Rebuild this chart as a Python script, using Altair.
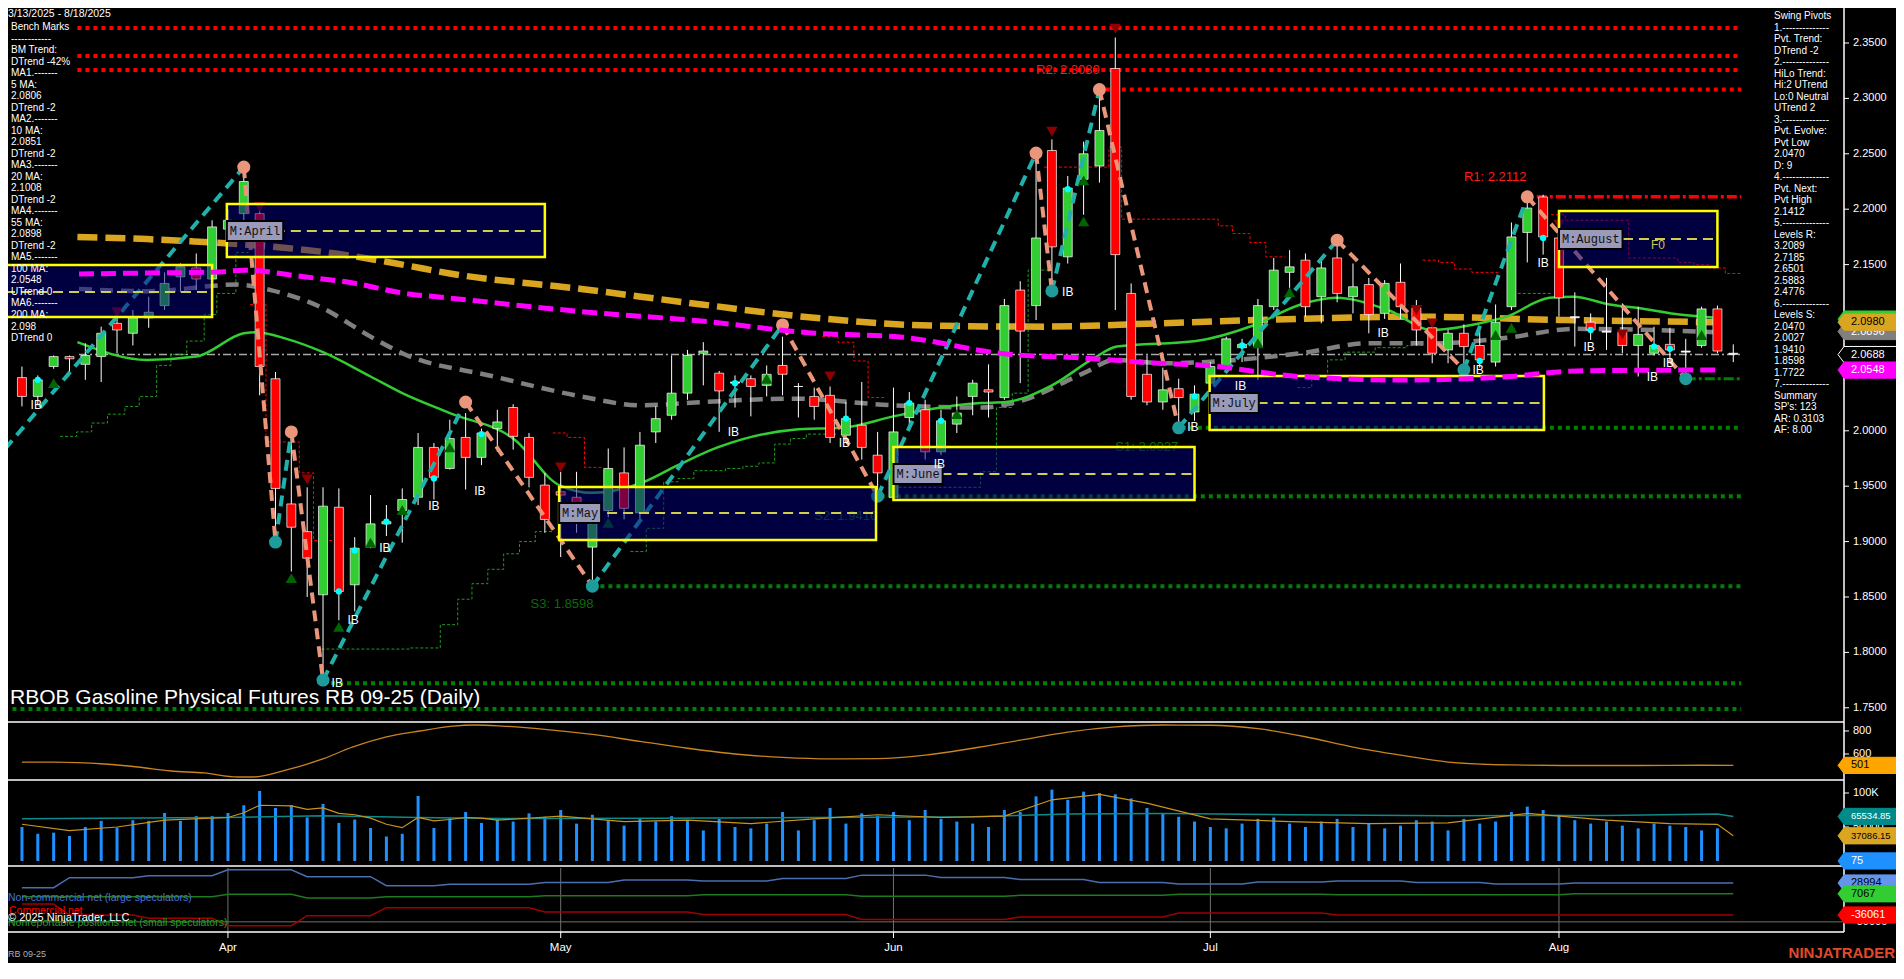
import altair as alt
import pandas as pd

# ---------------- data ----------------
opens = [2.048,2.031,2.058,2.067,2.060,2.067,2.097,2.088,2.102,2.113,
         2.139,2.147,2.137,2.182,2.196,2.196,2.047,1.934,1.909,1.852,
         1.931,1.861,1.895,1.916,1.928,1.940,1.985,1.966,1.994,1.976,
         2.002,2.021,1.994,1.951,1.945,1.940,1.895,1.928,1.962,1.926,
         1.999,2.014,2.034,2.070,2.052,2.043,2.047,2.041,2.059,2.040,
         2.031,2.032,1.996,2.005,1.978,1.940,2.012,2.019,1.981,2.006,
         2.031,2.037,2.030,2.127,2.113,2.253,2.157,2.227,2.239,2.327,
         2.124,2.051,2.026,2.038,2.017,2.043,2.058,2.075,2.076,2.112,
         2.143,2.154,2.121,2.156,2.121,2.132,2.106,2.134,2.111,2.093,
         2.073,2.088,2.077,2.062,2.112,2.179,2.211,2.174,2.103,2.098,
         2.090,2.089,2.077,2.070,2.078,2.072,2.077,2.110,2.070]
highs = [2.058,2.050,2.068,2.068,2.079,2.094,2.106,2.109,2.121,2.143,
         2.151,2.160,2.190,2.200,2.238,2.204,2.053,1.999,1.949,1.949,
         1.948,1.904,1.942,1.933,1.948,1.998,1.989,2.010,2.016,2.002,
         2.019,2.024,1.998,1.962,1.963,1.963,1.931,1.984,1.985,1.999,
         2.022,2.068,2.073,2.080,2.054,2.050,2.050,2.059,2.085,2.043,
         2.039,2.040,2.026,2.044,1.999,2.039,2.035,2.028,2.019,2.031,
         2.046,2.060,2.119,2.135,2.251,2.263,2.230,2.261,2.308,2.355,
         2.133,2.068,2.057,2.047,2.041,2.062,2.085,2.083,2.119,2.156,
         2.163,2.160,2.154,2.172,2.151,2.138,2.136,2.151,2.118,2.098,
         2.091,2.096,2.091,2.114,2.188,2.211,2.213,2.181,2.125,2.106,
         2.138,2.115,2.112,2.094,2.093,2.083,2.112,2.113,2.078]
lows = [2.022,2.023,2.056,2.053,2.046,2.044,2.070,2.077,2.093,2.109,
        2.125,2.127,2.134,2.176,2.189,2.032,1.900,1.873,1.850,1.775,
        1.829,1.837,1.894,1.905,1.899,1.933,1.938,1.965,1.947,1.969,
        1.981,1.983,1.949,1.908,1.886,1.908,1.860,1.922,1.920,1.920,
        1.989,2.010,2.028,2.041,1.999,2.021,2.013,2.031,2.032,2.012,
        2.010,1.989,1.992,1.974,1.941,1.938,2.005,1.974,1.978,1.998,
        2.014,2.012,2.028,2.043,2.100,2.126,2.151,2.195,2.224,2.109,
        2.028,2.023,2.019,2.003,2.009,2.035,2.053,2.062,2.046,2.109,
        2.127,2.103,2.097,2.116,2.106,2.088,2.101,2.101,2.077,2.061,
        2.061,2.055,2.057,2.058,2.109,2.152,2.159,2.103,2.076,2.082,
        2.073,2.070,2.049,2.068,2.064,2.047,2.075,2.070,2.062]
closes = [2.031,2.046,2.067,2.065,2.068,2.088,2.091,2.102,2.107,2.133,
          2.148,2.137,2.184,2.190,2.225,2.058,1.948,1.913,1.885,1.932,
          1.855,1.894,1.916,1.918,1.938,1.985,1.958,1.993,1.976,1.998,
          2.008,1.995,1.958,1.920,1.942,1.930,1.922,1.966,1.930,1.987,
          2.011,2.034,2.068,2.072,2.036,2.044,2.040,2.051,2.051,2.040,
          2.022,1.994,2.011,1.985,1.962,1.999,2.025,1.981,2.009,2.016,
          2.043,2.035,2.113,2.090,2.174,2.166,2.219,2.250,2.271,2.159,
          2.031,2.026,2.037,2.030,2.033,2.058,2.083,2.078,2.113,2.145,
          2.148,2.112,2.147,2.124,2.130,2.105,2.133,2.112,2.091,2.070,
          2.088,2.076,2.064,2.098,2.175,2.201,2.175,2.120,2.102,2.091,
          2.089,2.077,2.087,2.077,2.073,2.071,2.110,2.072,2.069]
volumes = [50000,40000,41700,36800,50000,59000,49000,60000,59000,70600,
           59000,66000,66000,70600,82000,103000,78000,82000,64000,84000,
           56000,61000,48500,36000,40000,95600,48500,63000,72000,56000,
           61000,58000,70000,65000,75000,55000,68000,60000,52000,63000,
           58000,66000,60000,45000,62000,50000,48000,55000,72000,45000,
           60000,78000,55000,70000,66000,72000,60000,75000,62000,58000,
           55000,50000,75000,72000,95000,105000,90000,102000,100000,98000,
           92000,78000,70000,65000,58000,50000,48000,55000,62000,64000,
           55000,50000,58000,62000,50000,55000,48000,52000,60000,58000,
           45000,62000,55000,58000,72000,80000,75000,68000,60000,55000,
           58000,52000,48000,55000,52000,50000,45000,48000,75]

month_labels = ["Apr", "May", "Jun", "Jul", "Aug"]
month_bars = [13, 34, 55, 75, 97]
price_ticks = [1.75, 1.80, 1.85, 1.90, 1.95, 2.00, 2.05, 2.10, 2.15, 2.20, 2.25, 2.30, 2.35]

# moving averages (bar index, value)
ma200_i = [3.5, 7.9, 10.7, 16.7, 19.8, 24, 27, 35.3, 42.9, 50, 57.3, 64.5, 71.7, 80.5, 87.8, 97.3, 107]
ma200_v = [2.175, 2.173, 2.171, 2.165, 2.160, 2.150, 2.142, 2.128, 2.114, 2.102, 2.095, 2.094, 2.097, 2.101, 2.103, 2.100, 2.098]
ma100_i = [3.6, 7.9, 12.3, 14, 17.8, 20.9, 24, 27, 35.3, 42.9, 50.1, 55.4, 62.1, 66.9, 71.7, 74.3, 80.6, 87.4, 93.7, 98.1, 107]
ma100_v = [2.1415, 2.1424, 2.1433, 2.145, 2.139, 2.1334, 2.1244, 2.1198, 2.1076, 2.099, 2.088, 2.0847, 2.0693, 2.0657, 2.061, 2.0594, 2.049, 2.0458, 2.0488, 2.054, 2.0549]
ma55_i = [3.6, 8, 13.6, 15.7, 18.8, 22, 24, 29.8, 35.3, 39, 43, 48.7, 55, 60.5, 62.8, 67, 69, 72, 80.7, 85, 89.3, 93.7, 98, 107]
ma55_v = [2.128, 2.126, 2.132, 2.127, 2.112, 2.085, 2.070, 2.049, 2.031, 2.023, 2.026, 2.029, 2.023, 2.021, 2.026, 2.052, 2.064, 2.061, 2.070, 2.079, 2.079, 2.084, 2.092, 2.089]
ma20_i = [3.5, 7.9, 11, 14, 14.8, 16.7, 19, 22, 24, 27, 31.1, 33.9, 36, 39.1, 41.4, 43.9, 48.7, 51.9, 55, 57.1, 60.5, 62.1, 65, 67.7, 69.1, 74.1, 77.7, 80.7, 82.9, 86.2, 89, 92, 93.7, 96.4, 97.9, 100.2, 102.4, 104.6, 107]
ma20_v = [2.080, 2.064, 2.067, 2.088, 2.089, 2.083, 2.071, 2.049, 2.034, 2.016, 1.992, 1.951, 1.944, 1.953, 1.969, 1.985, 2.001, 2.003, 2.013, 2.019, 2.025, 2.026, 2.041, 2.066, 2.076, 2.081, 2.095, 2.114, 2.120, 2.109, 2.091, 2.097, 2.103, 2.120, 2.121, 2.114, 2.110, 2.105, 2.102]

# swing pivots
piv_i = [-1.07, 14, 16, 17, 19, 28, 36, 48, 54, 64, 65, 68, 73, 83, 91, 95, 105]
piv_p = [1.9836, 2.238, 1.8996, 1.999, 1.775, 2.026, 1.8598, 2.0955, 1.941, 2.2507, 2.1262, 2.308, 2.0027, 2.172, 2.055, 2.2112, 2.047]
piv_kind = ["L", "H", "L", "H", "L", "H", "L", "H", "L", "H", "L", "H", "L", "H", "L", "H", "L"]

# horizontal levels
red_lvl_p = [2.3635, 2.3383, 2.3256, 2.3080]
red_lvl_start = [3.5, 3.5, 3.5, 68.4]
grn_lvl_p = [2.0027, 1.9410, 1.8598, 1.7722, 1.7490]
grn_lvl_start = [73.2, 54.2, 36.0, 19.0, -0.6]
lvl_end = 108.5
r1_level = 2.2112
r1_start = 95.6
pvt_low_level = 2.047
pvt_low_start = 105
last_price = 2.0688
last_price_start = 3.6

# monthly boxes
box_name = ["M:March", "M:April", "M:May", "M:June", "M:July", "M:August"]
box_i0 = [-1.07, 12.93, 33.9, 55.0, 74.95, 97.0]
box_i1 = [12.0, 33.0, 53.9, 74.0, 96.05, 107.0]
box_top = [2.1496, 2.2047, 1.9493, 1.9854, 2.0495, 2.1984]
box_bot = [2.1027, 2.1569, 1.9014, 1.9375, 2.0007, 2.1478]
box_mid = [2.1253, 2.1803, 1.9258, 1.9610, 2.0251, 2.1731]

# trailing stop steps (segment id, bar, price)
gstep_seg = [0]*13 + [1]*10 + [2]*12 + [3]*6 + [4]*7 + [5]*2
gstep_i = [2.4, 3.45, 4.4, 5.4, 6.5, 7.4, 8.5, 9.4, 10.4, 11.5, 12.3, 13.5, 14.3,
           18.9, 24.5, 26.4, 27.5, 28.4, 29.4, 30.4, 31.4, 32.4, 33.5,
           38.4, 39.4, 40.5, 41.4, 42.4, 44.4, 45.5, 46.5, 47.5, 48.5, 49.5, 51.5,
           55.0, 60.5, 61.5, 62.5, 63.5, 65.0,
           80.5, 81.4, 82.4, 83.5, 85.4, 87.4, 88.4,
           94.4, 96.5]
gstep_p = [1.995, 1.999, 2.007, 2.015, 2.022, 2.031, 2.059, 2.069, 2.081, 2.105, 2.124, 2.161, 2.161,
           1.803, 1.804, 1.825, 1.848, 1.862, 1.875, 1.889, 1.900, 1.909, 1.909,
           1.891, 1.912, 1.954, 1.957, 1.964, 1.966, 1.968, 1.971, 1.988, 1.993, 1.997, 1.997,
           1.949, 1.963, 2.021, 2.034, 2.145, 2.145,
           2.039, 2.048, 2.064, 2.071, 2.075, 2.077, 2.077,
           2.124, 2.124]
rstep_seg = [0]*5 + [1]*4 + [2]*5 + [3]*9 + [4]*5 + [5]*8
rstep_i = [14.4, 15.4, 17.5, 18.4, 19.6,
           33.5, 34.4, 35.5, 36.6,
           50.5, 51.5, 52.5, 53.4, 54.5,
           64.5, 68.6, 69.4, 74.4, 75.5, 76.4, 77.5, 78.5, 79.7,
           88.4, 89.4, 90.4, 91.5, 93.3,
           96.5, 97.4, 101.4, 104.5, 105.5, 106.5, 107.5, 108.5]
rstep_p = [2.114, 1.990, 1.962, 1.901, 1.901,
           1.998, 1.994, 1.967, 1.967,
           2.085, 2.080, 2.063, 2.030, 2.030,
           2.238, 2.256, 2.191, 2.191, 2.185, 2.178, 2.170, 2.157, 2.157,
           2.154, 2.152, 2.146, 2.143, 2.143,
           2.195, 2.190, 2.156, 2.152, 2.150, 2.147, 2.142, 2.142]

# markers
tri_dn_i = [6, 15, 18, 34, 51, 65, 69, 88, 89, 97, 101]
tri_dn_p = [2.107, 2.202, 1.956, 1.967, 2.049, 2.270, 2.363, 2.109, 2.097, 2.186, 2.087]
tri_up_i = [2, 17, 20, 22, 24, 27, 37, 47, 59, 67, 67, 78, 80, 93, 94, 106]
tri_up_p = [2.043, 1.867, 1.823, 1.899, 1.9285, 1.985, 1.917, 2.047, 2.015, 2.189, 2.226, 2.079, 2.125, 2.0865, 2.093, 2.0865]
cyan_i = [1, 20, 21, 23, 26, 29, 45, 52, 56, 58, 66, 74, 77, 92, 96, 99, 103, 104]
cyan_p = [2.046, 1.855, 1.892, 1.918, 1.957, 1.997, 2.043, 2.011, 2.025, 2.009, 2.218, 2.031, 2.077, 2.063, 2.174, 2.091, 2.076, 2.074]
ib_i = [0.9, 19.9, 20.9, 22.9, 26, 28.9, 44.9, 51.9, 57.9, 66, 73.9, 76.9, 85.9, 91.9, 96, 98.9, 102.9, 103.9]
ib_p = [2.023, 1.772, 1.829, 1.894, 1.932, 1.946, 1.999, 1.989, 1.970, 2.125, 2.003, 2.040, 2.088, 2.055, 2.151, 2.076, 2.049, 2.061]

# level annotations
red_ann_text = ["R2: 2.3080", "R1: 2.2112"]
red_ann_i = [64.0, 91.0]
red_ann_p = [2.3256, 2.229]
grn_ann_text = ["S1: 2.0027", "S2: 1.9410", "S3: 1.8598"]
grn_ann_i = [69.0, 50.0, 32.1]
grn_ann_p = [1.9854, 1.923, 1.8437]

# lower panels
osc_i = [0, 2, 5.2, 7.3, 9.4, 11.5, 13.6, 14.6, 16.7, 18.8, 20.9, 23, 25.1, 27.2, 28.6, 30.3, 33, 36, 39, 42, 45, 48, 51, 54, 57, 60, 63, 66, 69, 72, 75, 78, 81, 84, 87, 90, 94, 98, 102, 106, 108]
osc_v = [530, 530, 513, 487, 452, 435, 400, 400, 461, 548, 661, 748, 800, 843, 852, 843, 815, 770, 710, 650, 600, 570, 557, 560, 590, 650, 720, 790, 835, 852, 850, 820, 750, 660, 590, 530, 505, 500, 500, 502, 501]
vavg1_i = [0, 10, 13, 19, 25, 30, 40, 50, 60, 66, 72, 80, 90, 100, 107, 108]
vavg1_v = [62000, 63500, 64000, 66500, 64000, 62500, 63000, 64000, 65000, 69000, 70000, 68000, 66500, 67000, 69000, 65534.85]
vavg2_i = [0, 3, 6, 9, 13, 14, 15, 17, 18, 19, 20, 21, 22, 23, 24, 25, 26, 27, 28, 29, 30, 34, 38, 42, 46, 50, 54, 58, 62, 65, 68, 71, 75, 80, 85, 90, 95, 100, 104, 107, 108]
vavg2_v = [54000, 44600, 50000, 60000, 64000, 71000, 82000, 81000, 76000, 78000, 70000, 68000, 63000, 54000, 49000, 64000, 59000, 61000, 64000, 63000, 60000, 66000, 58000, 60000, 55000, 62000, 68000, 64000, 66000, 90000, 98000, 85000, 62000, 58000, 55000, 56000, 70000, 60000, 55000, 54000, 37086.15]
cot_nc_i = [0, 2, 3, 7, 8, 12, 13, 17, 18, 22, 23, 26, 27, 32, 33, 37, 38, 42, 43, 47, 48, 52, 53, 57, 58, 62, 63, 67, 68, 72, 73, 77, 78, 82, 83, 87, 88, 92, 93, 97, 98, 108]
cot_nc_v = [19400, 19400, 39800, 39800, 43800, 43800, 56000, 56000, 41800, 41800, 23500, 23500, 26300, 26300, 30000, 30000, 35000, 35000, 33000, 33000, 38000, 38000, 45000, 45000, 40000, 40000, 36000, 36000, 30000, 30000, 27000, 27000, 31000, 31000, 33000, 33000, 30000, 30000, 27000, 27000, 28994, 28994]
cot_nr_i = [0, 12, 13, 17, 18, 22, 23, 32, 33, 42, 43, 52, 53, 62, 63, 72, 73, 82, 83, 97, 98, 108]
cot_nr_v = [1100, 1100, 6000, 6000, -1500, -1500, 1100, 1100, 3000, 3000, 5000, 5000, 2000, 2000, 4000, 4000, 6000, 6000, 5000, 5000, 7067, 7067]
cot_cm_i = [0, 2, 3, 7, 8, 12, 13, 17, 18, 22, 23, 32, 33, 42, 43, 52, 53, 62, 63, 72, 73, 82, 83, 97, 98, 108]
cot_cm_v = [-13700, -13700, -36100, -36100, -42800, -42800, -57800, -57800, -37500, -37500, -21200, -21200, -30000, -30000, -35000, -35000, -45000, -45000, -40000, -40000, -32000, -32000, -36000, -36000, -36061, -36061]
cot_ref_level = -50000

left_lines = ["Bench Marks", "------------", "BM Trend:", "DTrend -42%", "MA1.-------", "5 MA:", "2.0806",
              "DTrend -2", "MA2.-------", "10 MA:", "2.0851", "DTrend -2", "MA3.-------", "20 MA:", "2.1008",
              "DTrend -2", "MA4.-------", "55 MA:", "2.0898", "DTrend -2", "MA5.-------", "100 MA:", "2.0548",
              "UTrend 0", "MA6.-------", "200 MA:", "2.098", "DTrend 0"]
right_lines = ["Swing Pivots", "1.--------------", "Pvt. Trend:", "DTrend -2", "2.--------------", "HiLo Trend:",
               "Hi:2 UTrend", "Lo:0 Neutral", "UTrend 2", "3.--------------", "Pvt. Evolve:", "Pvt Low", "2.0470",
               "D: 9", "4.--------------", "Pvt. Next:", "Pvt High", "2.1412", "5.--------------", "Levels R:",
               "3.2089", "2.7185", "2.6501", "2.5883", "2.4776", "6.--------------", "Levels S:", "2.0470",
               "2.0027", "1.9410", "1.8598", "1.7722", "7.--------------", "Summary", "SP's: 123", "AR: 0.3103",
               "AF: 8.00"]

# ---------------- layout ----------------
W, HGT = 1888, 955
FONT = "Liberation Sans"
XS = alt.Scale(domain=[-0.565, 117.954], nice=False, zero=False)


def scl(lo, hi, r0, r1):
    return alt.Scale(domain=[lo, hi], range=[r0, r1], nice=False, zero=False)


S_MAIN = scl(1.73718, 2.38159, 714, 0)
S_OSC = scl(373.9, 878.26, 772, 714)
S_VOL = scl(-7353, 119118, 858, 772)
S_COT = scl(-70623, 63555, 924, 858)


def X(f):
    return alt.X(f, type="quantitative", scale=XS, axis=None)


def Y(f, s):
    return alt.Y(f, type="quantitative", scale=s, axis=None)


ONE = pd.DataFrame({"k": [0]})
L = []


def line(xs, ys, s, **kw):
    d = pd.DataFrame({"i": xs, "v": ys})
    return alt.Chart(d).mark_line(**kw).encode(x=X("i"), y=Y("v", s))


# horizontal levels
red_df = pd.DataFrame({"a": red_lvl_start, "b": [lvl_end]*len(red_lvl_p), "p": red_lvl_p})
L.append(alt.Chart(red_df).mark_rule(color="#FF0000", strokeWidth=4, strokeDash=[4, 4]).encode(x=X("a"), x2="b", y=Y("p", S_MAIN)))
grn_df = pd.DataFrame({"a": grn_lvl_start, "b": [lvl_end]*len(grn_lvl_p), "p": grn_lvl_p})
L.append(alt.Chart(grn_df).mark_rule(color="#008000", strokeWidth=4, strokeDash=[4, 4]).encode(x=X("a"), x2="b", y=Y("p", S_MAIN)))
L.append(alt.Chart(pd.DataFrame({"a": [r1_start], "b": [lvl_end], "p": [r1_level]})).mark_rule(
    color="#FF0000", strokeWidth=3.5, strokeDash=[10, 3, 3, 3]).encode(x=X("a"), x2="b", y=Y("p", S_MAIN)))
L.append(alt.Chart(pd.DataFrame({"a": [pvt_low_start], "b": [lvl_end], "p": [pvt_low_level]})).mark_rule(
    color="#008000", strokeWidth=3, strokeDash=[10, 3, 3, 3]).encode(x=X("a"), x2="b", y=Y("p", S_MAIN)))
L.append(alt.Chart(pd.DataFrame({"a": [last_price_start], "b": [lvl_end], "p": [last_price]})).mark_rule(
    color="#A9A9A9", strokeWidth=1.5, strokeDash=[8, 3, 2, 3]).encode(x=X("a"), x2="b", y=Y("p", S_MAIN)))

# trailing stop steps
gs = pd.DataFrame({"s": gstep_seg, "i": gstep_i, "v": gstep_p})
L.append(alt.Chart(gs).mark_line(color="#1F9A1F", strokeWidth=1, strokeDash=[3, 2], interpolate="step-after").encode(
    x=X("i"), y=Y("v", S_MAIN), detail="s:N"))
rs = pd.DataFrame({"s": rstep_seg, "i": rstep_i, "v": rstep_p})
L.append(alt.Chart(rs).mark_line(color="#FF0000", strokeWidth=1, strokeDash=[3, 2], interpolate="step-after").encode(
    x=X("i"), y=Y("v", S_MAIN), detail="s:N"))

# moving averages (under boxes)
L.append(line(ma200_i, ma200_v, S_MAIN, color="#DAA520", strokeWidth=6.5, strokeDash=[20, 8], interpolate="monotone"))
L.append(line(ma55_i, ma55_v, S_MAIN, color="#808080", strokeWidth=4.5, strokeDash=[13, 8], interpolate="monotone"))
L.append(line(ma20_i, ma20_v, S_MAIN, color="#32CD32", strokeWidth=2.5, interpolate="monotone"))

# S/R annotations
L.append(alt.Chart(pd.DataFrame({"i": grn_ann_i, "p": grn_ann_p, "t": grn_ann_text})).mark_text(
    align="left", baseline="middle", font=FONT, fontSize=13, color="#0B6B0B").encode(x=X("i"), y=Y("p", S_MAIN), text="t:N"))
L.append(alt.Chart(pd.DataFrame({"i": red_ann_i, "p": red_ann_p, "t": red_ann_text})).mark_text(
    align="left", baseline="middle", font=FONT, fontSize=13, color="#FF1A1A").encode(x=X("i"), y=Y("p", S_MAIN), text="t:N"))

# candles
cd = pd.DataFrame({"i": list(range(len(opens))), "o": opens, "h": highs, "l": lows, "c": closes})
cd["col"] = ["#FFFFFF" if abs(c - o) < 0.0015 else ("#32CD32" if c > o else "#FF0000") for o, c in zip(opens, closes)]
L.append(alt.Chart(cd).mark_rule(color="#FFFFFF", strokeWidth=1).encode(x=X("i"), y=Y("l", S_MAIN), y2="h"))
L.append(alt.Chart(cd).mark_bar(size=9, stroke="#FFFFFF", strokeWidth=0.7).encode(
    x=X("i"), y=Y("o", S_MAIN), y2="c", color=alt.Color("col:N", scale=None)))

# swings
rows = []
for k in range(len(piv_i) - 1):
    up = piv_kind[k + 1] == "H"
    rows.append({"s": k, "i": piv_i[k], "v": piv_p[k], "up": up})
    rows.append({"s": k, "i": piv_i[k + 1], "v": piv_p[k + 1], "up": up})
sw = pd.DataFrame(rows)
L.append(alt.Chart(sw[sw.up]).mark_line(color="#20B2AA", strokeWidth=4, strokeDash=[11, 7]).encode(
    x=X("i"), y=Y("v", S_MAIN), detail="s:N"))
L.append(alt.Chart(sw[~sw.up]).mark_line(color="#E9967A", strokeWidth=4, strokeDash=[11, 7]).encode(
    x=X("i"), y=Y("v", S_MAIN), detail="s:N"))
pv = pd.DataFrame({"i": piv_i, "v": piv_p, "k": piv_kind})
L.append(alt.Chart(pv[pv.k == "H"]).mark_point(shape="circle", size=170, filled=True, opacity=1, color="#E9967A").encode(
    x=X("i"), y=Y("v", S_MAIN)))
L.append(alt.Chart(pv[(pv.k == "L") & (pv.i > 0)]).mark_point(shape="circle", size=170, filled=True, opacity=1, color="#1E9C9C").encode(
    x=X("i"), y=Y("v", S_MAIN)))

# markers
L.append(alt.Chart(pd.DataFrame({"i": tri_dn_i, "v": tri_dn_p})).mark_point(
    shape="triangle-down", size=130, filled=True, opacity=1, color="#8B0000").encode(x=X("i"), y=Y("v", S_MAIN)))
L.append(alt.Chart(pd.DataFrame({"i": tri_up_i, "v": tri_up_p})).mark_point(
    shape="triangle-up", size=130, filled=True, opacity=1, color="#006400").encode(x=X("i"), y=Y("v", S_MAIN)))
L.append(alt.Chart(pd.DataFrame({"i": cyan_i, "v": cyan_p})).mark_point(
    shape="circle", size=40, filled=True, opacity=1, color="#00FFFF").encode(x=X("i"), y=Y("v", S_MAIN)))

# monthly boxes
bx = pd.DataFrame({"n": box_name, "a": box_i0, "b": box_i1, "t": box_top, "u": box_bot, "m": box_mid})
L.append(alt.Chart(bx).mark_rect(fill="#000080", fillOpacity=0.5, stroke="#FFFF00", strokeWidth=2.5).encode(
    x=X("a"), x2="b", y=Y("t", S_MAIN), y2="u"))
L.append(alt.Chart(bx).mark_rule(color="#CFCF4A", strokeWidth=2, strokeDash=[10, 6]).encode(
    x=X("a"), x2="b", y=Y("m", S_MAIN)))
for k in range(1, len(box_name)):
    d = bx.iloc[[k]]
    wpx = 7.2 * len(box_name[k]) + 6
    L.append(alt.Chart(d).mark_rect(fill="#9A9ABA", stroke="#000000", strokeWidth=2, x2Offset=wpx,
                                    yOffset=-10, y2Offset=10).encode(x=X("a"), x2="a", y=Y("m", S_MAIN), y2="m"))
    L.append(alt.Chart(d).mark_text(align="left", baseline="middle", font="Liberation Mono", fontSize=12,
                                    color="#111111", dx=3).encode(x=X("a"), y=Y("m", S_MAIN), text="n:N"))
L.append(alt.Chart(pd.DataFrame({"i": [102.8], "v": [2.168], "t": ["F0"]})).mark_text(
    align="left", baseline="middle", font=FONT, fontSize=12, color="#C8C850").encode(x=X("i"), y=Y("v", S_MAIN), text="t:N"))

# 100 MA drawn above boxes
L.append(line(ma100_i, ma100_v, S_MAIN, color="#FF00FF", strokeWidth=5, strokeDash=[15, 7], interpolate="monotone"))

# IB labels
L.append(alt.Chart(pd.DataFrame({"i": ib_i, "v": ib_p, "t": ["IB"]*len(ib_i)})).mark_text(
    align="center", baseline="middle", font=FONT, fontSize=12, color="#FFFFFF").encode(x=X("i"), y=Y("v", S_MAIN), text="t:N"))

# text blocks
def text_block(lines, x, y0, dy, size, color):
    d = pd.DataFrame({"r": list(range(len(lines))), "t": lines})
    n = len(lines) - 1
    return alt.Chart(d).mark_text(align="left", baseline="middle", font=FONT, fontSize=size, color=color).encode(
        x=alt.value(x), y=alt.Y("r:Q", scale=alt.Scale(domain=[0, n], range=[y0, y0 + n * dy], nice=False, zero=False), axis=None),
        text="t:N")


L.append(text_block(left_lines, 3, 19, 11.52, 10, "#FFFFFF"))
L.append(text_block(right_lines, 1766, 8, 11.5, 10, "#FFFFFF"))
L.append(alt.Chart(ONE).mark_text(align="left", baseline="middle", font=FONT, fontSize=10.5, color="#FFFFFF",
                                  text="3/13/2025 - 8/18/2025").encode(x=alt.value(0), y=alt.value(6)))
L.append(alt.Chart(ONE).mark_text(align="left", baseline="middle", font=FONT, fontSize=21, color="#FFFFFF",
                                  text="RBOB Gasoline Physical Futures RB 09-25 (Daily)").encode(x=alt.value(2), y=alt.value(690)))

# lower panels
L.append(line(osc_i, osc_v, S_OSC, color="#C8841E", strokeWidth=1.3, interpolate="monotone"))
vd = pd.DataFrame({"i": list(range(len(volumes))), "v": volumes, "z": [0]*len(volumes)})
L.append(alt.Chart(vd).mark_bar(size=3, color="#1E90FF").encode(x=X("i"), y=Y("v", S_VOL), y2="z"))
L.append(line(vavg1_i, vavg1_v, S_VOL, color="#0E8A8A", strokeWidth=1.5))
L.append(line(vavg2_i, vavg2_v, S_VOL, color="#C8941E", strokeWidth=1.2))
L.append(alt.Chart(pd.DataFrame({"v": [cot_ref_level]})).mark_rule(color="#707070", strokeWidth=1).encode(
    x=alt.value(0), x2=alt.value(1836), y=Y("v", S_COT)))
L.append(alt.Chart(pd.DataFrame({"i": month_bars})).mark_rule(color="#707070", strokeWidth=1).encode(
    x=X("i"), y=alt.value(860), y2=alt.value(924)))
L.append(line(cot_nc_i, cot_nc_v, S_COT, color="#4A6FB0", strokeWidth=1.5))
L.append(line(cot_nr_i, cot_nr_v, S_COT, color="#1E7A1E", strokeWidth=1.5))
L.append(line(cot_cm_i, cot_cm_v, S_COT, color="#A00000", strokeWidth=1.5))

# separators & right axis
for yy in [714, 772, 858, 924]:
    L.append(alt.Chart(ONE).mark_rule(color="#FFFFFF", strokeWidth=1.5).encode(
        x=alt.value(0), x2=alt.value(1836), y=alt.value(yy)))
L.append(alt.Chart(ONE).mark_rule(color="#FFFFFF", strokeWidth=1.5).encode(
    x=alt.value(1836), y=alt.value(0), y2=alt.value(924)))

# axis ticks and labels
def axis_labels(vals, texts, s):
    d = pd.DataFrame({"v": vals, "t": texts})
    return [alt.Chart(d).mark_rule(color="#FFFFFF", strokeWidth=1).encode(x=alt.value(1836), x2=alt.value(1841), y=Y("v", s)),
            alt.Chart(d).mark_text(align="left", baseline="middle", font=FONT, fontSize=11, color="#FFFFFF").encode(
                x=alt.value(1845), y=Y("v", s), text="t:N")]


L += axis_labels(price_ticks, [f"{p:.4f}" for p in price_ticks], S_MAIN)
L += axis_labels([800, 600], ["800", "600"], S_OSC)
L += axis_labels([100000, 50000], ["100K", "50000"], S_VOL)
L += axis_labels([cot_ref_level], ["-50000"], S_COT)

# price tags
TAG = "M-1.2,0L-1,-0.27L1,-0.27L1,0.27L-1,0.27Z"


def tag(val, label, fill, tcol, s, stroke=None, fs=11):
    d = pd.DataFrame({"v": [val], "t": [label]})
    return [alt.Chart(d).mark_point(shape=TAG, size=3600, filled=True, opacity=1, fill=fill,
                                    stroke=stroke or fill, strokeWidth=1).encode(x=alt.value(1866), y=Y("v", s)),
            alt.Chart(d).mark_text(align="left", baseline="middle", font=FONT, fontSize=fs, color=tcol).encode(
                x=alt.value(1843), y=Y("v", s), text="t:N")]


L += tag(2.1008, "", "#32CD32", "#000000", S_MAIN)
L += tag(2.0896, "2.0896", "#808080", "#FFFFFF", S_MAIN)
L += tag(2.0980, "2.0980", "#DAA520", "#000000", S_MAIN)
L += tag(2.0688, "2.0688", "#000000", "#FFFFFF", S_MAIN, stroke="#FFFFFF")
L += tag(2.0548, "2.0548", "#FF00FF", "#FFFFFF", S_MAIN)
L += tag(501, "501", "#FFA500", "#000000", S_OSC)
L += tag(65534.85, "65534.85", "#008B8B", "#FFFFFF", S_VOL, fs=9.5)
L += tag(37086.15, "37086.15", "#DAA520", "#000000", S_VOL, fs=9.5)
L += tag(75, "75", "#1E90FF", "#FFFFFF", S_VOL)
L += tag(28994, "28994", "#6495ED", "#000000", S_COT)
L += tag(7067, "7067", "#32CD32", "#000000", S_COT)
L += tag(-36061, "-36061", "#FF0000", "#FFFFFF", S_COT)

# legends / x labels / footer
def txt(t, x, y, size, color, align="left", weight="normal", font=FONT):
    return alt.Chart(ONE).mark_text(align=align, baseline="middle", font=font, fontSize=size, color=color,
                                    fontWeight=weight, text=t).encode(x=alt.value(x), y=alt.value(y))


L.append(txt("Non-commercial net (large speculators)", 0, 890, 10.5, "#4A72D6"))
L.append(txt("Commercial net", 1, 903, 10.5, "#FF0000"))
L.append(txt("Nonreportable positions net (small speculators)", 0, 915, 10.5, "#22A022"))
L.append(txt("\u00a9 2025 NinjaTrader, LLC", 0, 910, 11, "#FFFFFF"))
L.append(txt("RB 09-25", 0, 946, 9, "#B0B0B0"))
L.append(txt("NINJATRADER", 1887, 945, 15, "#E04A2A", align="right", weight="bold"))

md = pd.DataFrame({"i": month_bars, "t": month_labels})
L.append(alt.Chart(md).mark_rule(color="#FFFFFF", strokeWidth=1).encode(x=X("i"), y=alt.value(924), y2=alt.value(930)))
L.append(alt.Chart(md).mark_text(align="center", baseline="middle", font=FONT, fontSize=11.5, color="#FFFFFF").encode(
    x=X("i"), y=alt.value(940), text="t:N"))

chart = alt.layer(*L).resolve_scale(y="independent").properties(
    width=W, height=HGT, background="black", padding=0,
    autosize=alt.AutoSizeParams(type="none"),
).configure_view(strokeWidth=0)

chart.save("out.html", embed_options={"renderer": "svg", "actions": False})
